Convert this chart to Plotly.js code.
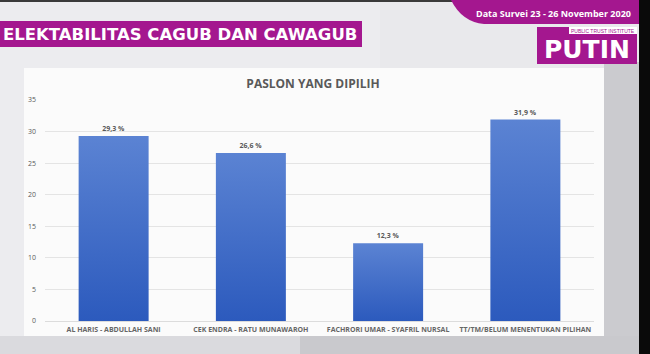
<!DOCTYPE html>
<html>
<head>
<meta charset="utf-8">
<script src="https://cdn.plot.ly/plotly-3.0.1.min.js"></script>
<style>
html,body{margin:0;padding:0;background:#e6e6e9;}
#chart{width:650px;height:354px;}
</style>
</head>
<body>
<div id="chart"></div>
<script>
// ---- data ----
var categories = [
  "AL HARIS - ABDULLAH SANI",
  "CEK ENDRA - RATU MUNAWAROH",
  "FACHRORI UMAR - SYAFRIL NURSAL",
  "TT/TM/BELUM MENENTUKAN PILIHAN"
];
var values = [29.3, 26.6, 12.3, 31.9];
var yTicks = [0, 5, 10, 15, 20, 25, 30, 35];
var chartTitle = "PASLON YANG DIPILIH";
var bannerText = "ELEKTABILITAS CAGUB DAN CAWAGUB";
var surveyText = "Data Survei 23 - 26 November 2020";
var logoText = "PUTIN";
var logoSub = "PUBLIC TRUST INSTITUTE";

var labels = values.map(function(v){ return v.toFixed(1).replace('.', ',') + ' %'; });

// ---- layout geometry (pixels -> paper) ----
var W = 650, H = 354;
var M = {l: 45, r: 56, t: 100, b: 33};
var PW = W - M.l - M.r, PH = H - M.t - M.b;
function px(x){ return (x - M.l) / PW; }
function py(y){ return (H - M.b - y) / PH; }
function rect(x0, y0, x1, y1, color){
  return {type:'rect', xref:'paper', yref:'paper', x0:px(x0), x1:px(x1), y0:py(y1), y1:py(y0),
          fillcolor:color, line:{width:0}, layer:'below'};
}
function P(x, y){ return px(x).toFixed(5) + ',' + py(y).toFixed(5); }

var grey = '#595959';
var magenta = '#a4178f';

var shapes = [
  // background zones
  rect(0, 0, 640, 354, '#ececef'),
  rect(380, 0, 640, 68, '#e9e9ec'),
  rect(604, 62, 640, 354, '#cbcbcf'),
  rect(0, 336, 300, 354, '#dadade'),
  rect(300, 336, 640, 354, '#c9c9cd'),
  // white panel
  rect(24, 68, 604, 336, '#fbfbfb'),
  // dark top line
  rect(0, 0, 650, 2, '#3a3a3a'),
  // black right strip
  rect(639, 0, 650, 354, '#0a0a0a'),
  // banner
  rect(0, 21, 362, 47, magenta),
  // survey tab with rounded bottom-left
  {type:'path', xref:'paper', yref:'paper', layer:'below', fillcolor:magenta, line:{width:0},
   path:'M' + P(451,0) + ' L' + P(639,0) + ' L' + P(639,24) + ' L' + P(484,24) +
        ' Q' + P(462,22) + ' ' + P(451,0) + ' Z'},
  // logo block
  rect(537, 27, 637, 64, magenta),
  rect(569, 27, 637, 34, '#ffffff')
];

var annotations = [
  {text: bannerText, xref:'paper', yref:'paper', x:px(180), y:py(34.5), showarrow:false,
   xanchor:'center', yanchor:'middle',
   font:{family:'DejaVu Sans, sans-serif', size:16.5, color:'#ffffff', weight:'bold'}},
  {text: surveyText, xref:'paper', yref:'paper', x:px(553), y:py(13), showarrow:false,
   xanchor:'center', yanchor:'middle',
   font:{family:'Open Sans, sans-serif', size:9, color:'#ffffff', weight:'bold'}},
  {text: logoSub, xref:'paper', yref:'paper', x:px(603), y:py(30.5), showarrow:false,
   xanchor:'center', yanchor:'middle',
   font:{family:'Liberation Sans, Arial, sans-serif', size:5, color:magenta}},
  {text: logoText, xref:'paper', yref:'paper', x:px(587), y:py(50), showarrow:false,
   xanchor:'center', yanchor:'middle',
   font:{family:'DejaVu Sans, sans-serif', size:25, color:'#ffffff', weight:'bold'}}
];

var trace = {
  type:'bar',
  x: categories,
  y: values,
  text: labels,
  textposition:'outside',
  cliponaxis:false,
  textfont:{family:'Open Sans, sans-serif', size:7, color:grey, weight:'bold'},
  marker:{color:'#426ec8', line:{width:0}},
  hoverinfo:'none'
};

var layout = {
  width: W, height: H,
  margin: M,
  paper_bgcolor:'#ececef',
  plot_bgcolor:'rgba(0,0,0,0)',
  showlegend:false,
  bargap:0.49,
  title:{text: chartTitle, x: 313/W, y: 1 - 84/H, xanchor:'center', yanchor:'middle',
         xref:'container', yref:'container',
         font:{family:'Open Sans, sans-serif', size:12, color:grey, weight:'bold'}},
  xaxis:{
    type:'category', showgrid:false, zeroline:false, showline:false, ticks:'',
    ticklabelstandoff:3,
    tickfont:{family:'Open Sans, sans-serif', size:7, color:'#666666', weight:'bold'},
    tickangle:0
  },
  yaxis:{
    range:[0,35], tickvals:yTicks, ticktext:yTicks.map(String),
    showgrid:true, gridcolor:'#e4e4e4', gridwidth:1, zeroline:true, zerolinecolor:'#dcdcdc',
    showline:false, ticks:'', ticklabelstandoff:8,
    tickfont:{family:'Open Sans, sans-serif', size:7, color:grey}
  },
  shapes: shapes,
  annotations: annotations
};

Plotly.newPlot('chart', [trace], layout, {displayModeBar:false, staticPlot:true}).then(function(gd){
  // vertical gradient on bars
  var svg = gd.querySelector('svg.main-svg');
  var ns = 'http://www.w3.org/2000/svg';
  var defs = svg.querySelector('defs') || svg.insertBefore(document.createElementNS(ns,'defs'), svg.firstChild);
  var g = document.createElementNS(ns,'linearGradient');
  g.setAttribute('id','barGrad');
  g.setAttribute('x1','0'); g.setAttribute('y1','0'); g.setAttribute('x2','0'); g.setAttribute('y2','1');
  [['0','#5b83d3'],['1','#2c5abd']].forEach(function(s){
    var st = document.createElementNS(ns,'stop');
    st.setAttribute('offset', s[0]); st.setAttribute('stop-color', s[1]);
    g.appendChild(st);
  });
  defs.appendChild(g);
  gd.querySelectorAll('.bars .point path').forEach(function(p){
    p.style.fill = 'url(#barGrad)';
  });
});
</script>
</body>
</html>
